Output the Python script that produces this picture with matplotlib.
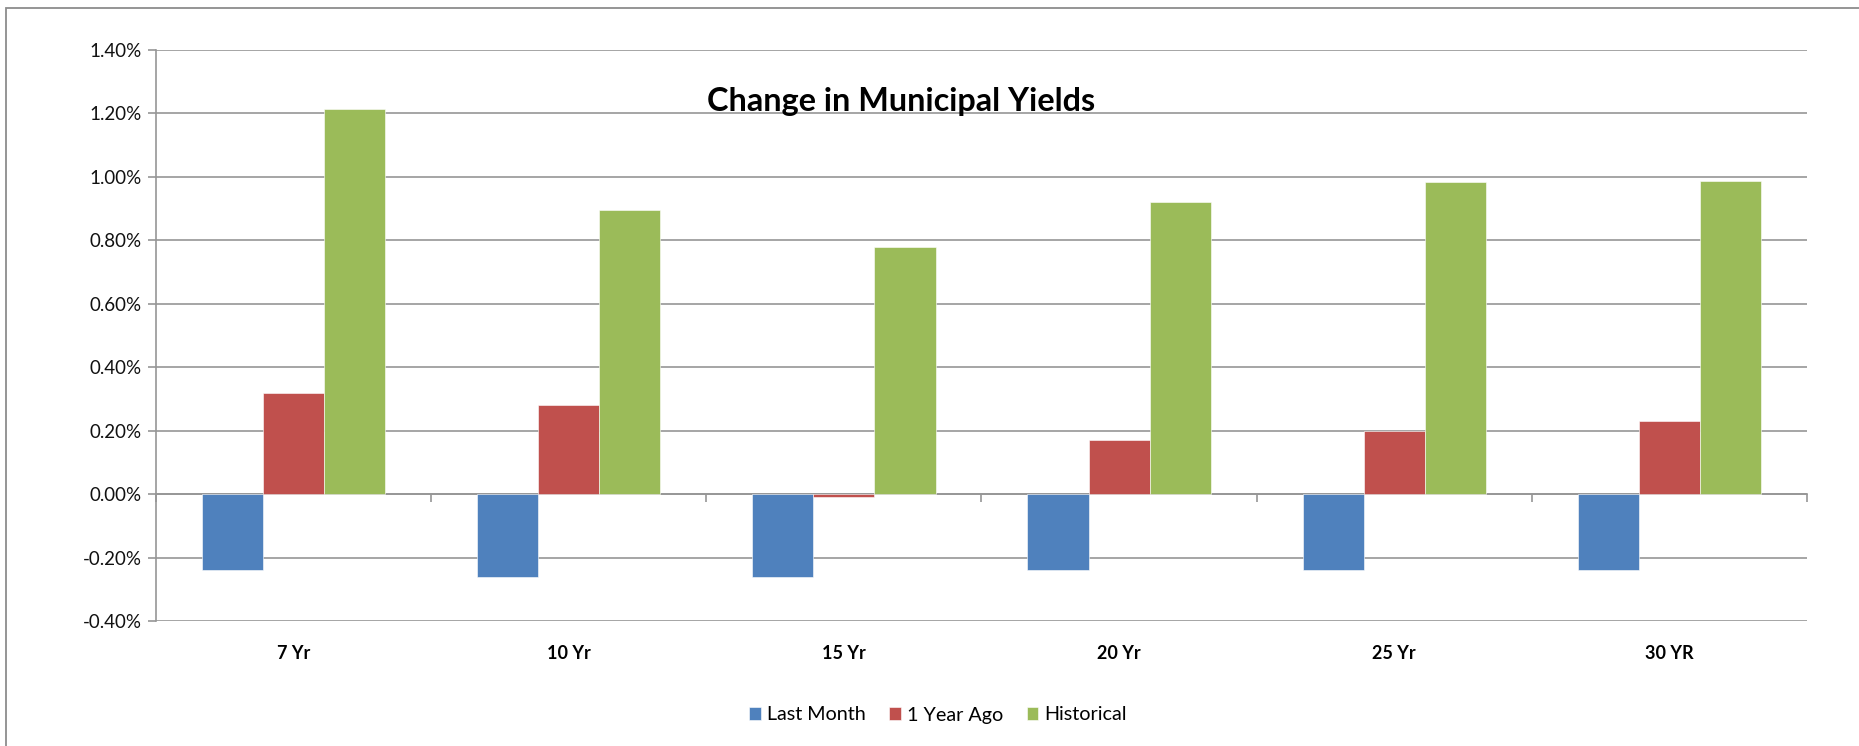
import matplotlib
matplotlib.use("Agg")
import matplotlib.pyplot as plt
import numpy as np
from matplotlib.patches import Rectangle
from matplotlib.ticker import FuncFormatter

plt.rcParams['font.family'] = ['Lato', 'DejaVu Sans']

# values (in percent)
categories = ['7 Yr', '10 Yr', '15 Yr', '20 Yr', '25 Yr', '30 YR']
last_month = [-0.24, -0.26, -0.26, -0.24, -0.24, -0.24]
one_year_ago = [0.32, 0.28, -0.01, 0.17, 0.20, 0.23]
historical = [1.215, 0.895, 0.78, 0.92, 0.983, 0.988]
series_names = ['Last Month', '1 Year Ago', 'Historical']
colors = ['#4F81BD', '#C0504D', '#9BBB59']

W, H = 1859, 746
fig = plt.figure(figsize=(W / 100, H / 100), dpi=100)
ax = fig.add_axes([156 / W, 1 - 621 / H, (1807 - 156) / W, (621 - 50) / H])

x = np.arange(len(categories))
bw = 0.222
for i, (vals, name, c) in enumerate(zip([last_month, one_year_ago, historical], series_names, colors)):
    ax.bar(x + (i - 1) * bw, vals, bw, color=c, label=name, zorder=3,
           edgecolor='white', linewidth=0.4)

ax.set_xlim(-0.5, len(categories) - 0.5)
ax.set_ylim(-0.4, 1.4)
ax.set_yticks(np.arange(-0.4, 1.41, 0.2))
ax.yaxis.set_major_formatter(FuncFormatter(lambda v, p: '%.2f%%' % v))
ax.grid(axis='y', color='#969696', linewidth=1.2, zorder=0)

grey = '#969696'
for s in ['top', 'right']:
    ax.spines[s].set_visible(False)
ax.spines['left'].set_color(grey)
ax.spines['left'].set_linewidth(1.2)
# horizontal axis crosses at zero, ticks between categories
ax.spines['bottom'].set_position(('data', 0))
ax.spines['bottom'].set_color(grey)
ax.spines['bottom'].set_linewidth(1.2)
ax.set_xticks(np.arange(-0.5, len(categories)), minor=False)
ax.tick_params(axis='x', which='major', direction='out', length=6, width=1.2,
               color=grey, labelbottom=False)
ax.tick_params(axis='y', direction='out', length=6, width=1.2, color=grey,
               labelsize=13.5, pad=4, labelcolor='#111111')

# category labels under the plot area
sec = ax.secondary_xaxis('bottom')
sec.set_xticks(x, categories)
sec.tick_params(length=0, pad=17, labelsize=13)
for lab in sec.get_xticklabels():
    lab.set_fontweight('bold')
sec.spines['bottom'].set_visible(False)

ax.text(0.4515, 0.91, 'Change in Municipal Yields', transform=ax.transAxes,
        ha='center', va='center', fontsize=23.3, fontweight='bold')

fig.legend(loc='center', bbox_to_anchor=(0.5045, 1 - 715 / H), ncol=3, frameon=False,
           fontsize=14.2, handlelength=0.6, handleheight=0.6, handletextpad=0.3,
           columnspacing=1.2)

fig.add_artist(Rectangle((6 / W, -0.2), 1.2, 1.2 - 8 / H, transform=fig.transFigure,
                         fill=False, edgecolor='#8c8c8c', linewidth=1.3))

fig.savefig('out.png', dpi=100, facecolor='white')
